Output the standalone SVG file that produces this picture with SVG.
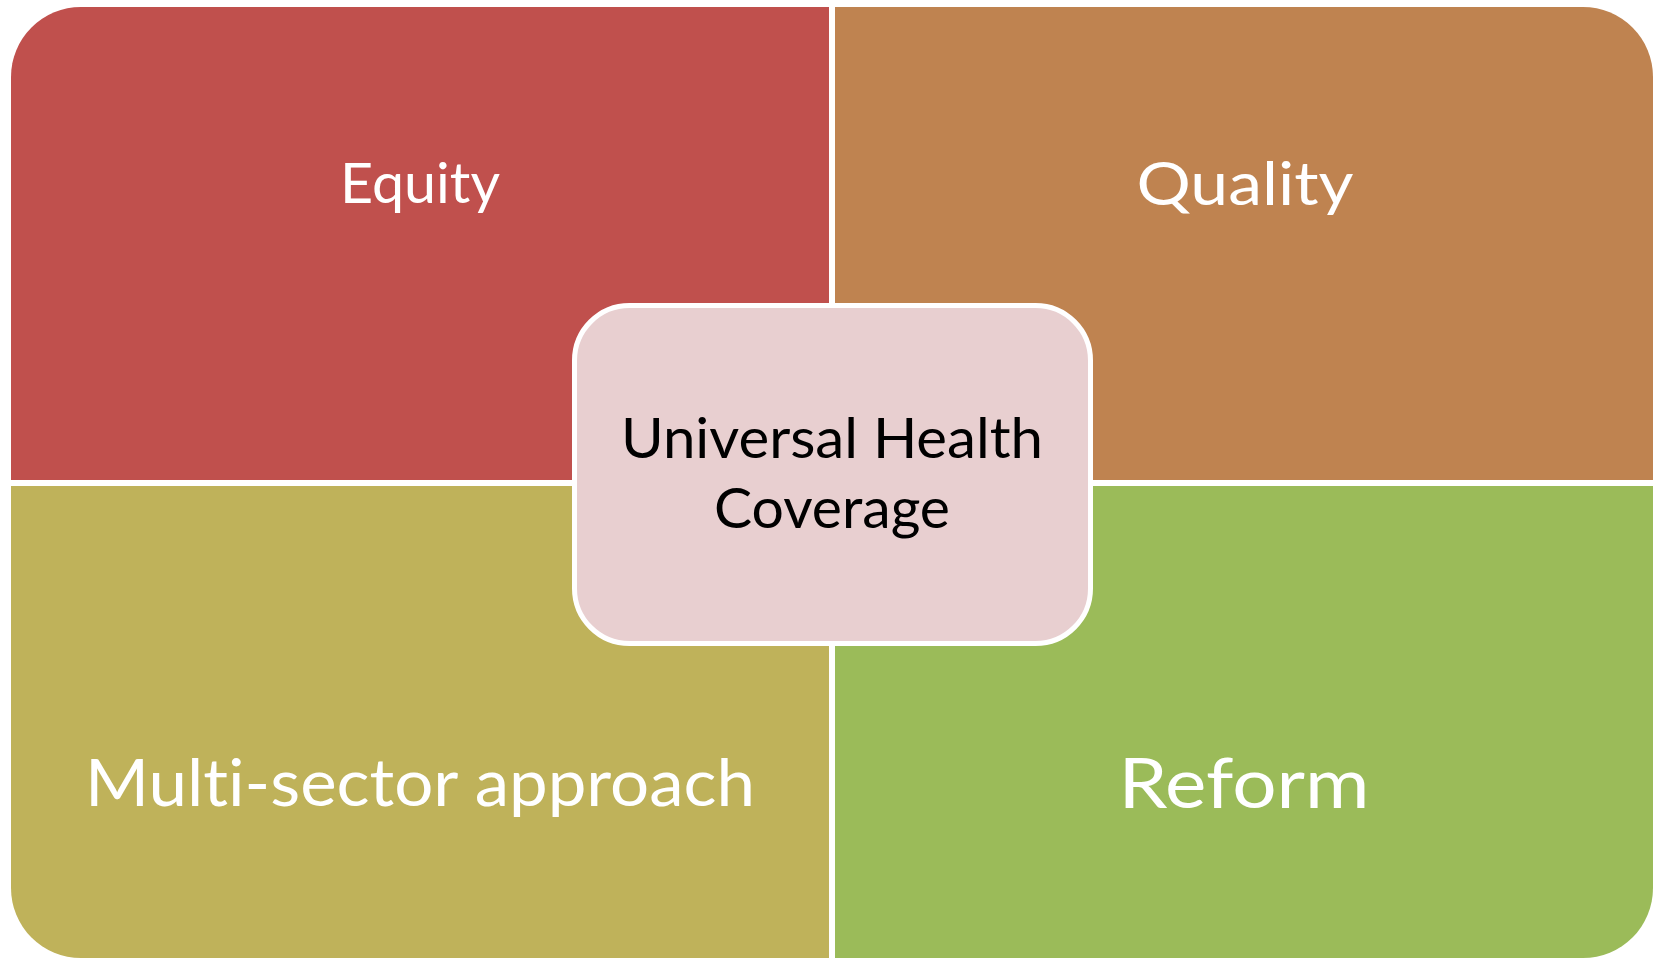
<svg xmlns="http://www.w3.org/2000/svg" width="1656" height="959" viewBox="0 0 1656 959">
  <style>
    .lbl { font-family: Lato, "Open Sans", "Liberation Sans", sans-serif; fill: #FFFFFF; text-anchor: middle; font-variant-ligatures: none; font-feature-settings: "liga" 0, "clig" 0; }
    .ctr { font-family: Lato, "Open Sans", "Liberation Sans", sans-serif; fill: #000000; text-anchor: middle; font-size: 57px; font-variant-ligatures: none; }
  </style>
  <rect width="1656" height="959" fill="#FFFFFF"/>
  <g id="equity">
    <path d="M11,480 V77 A70,70 0 0 1 81,7 H829 V480 Z" fill="#C0504D"/>
    <text class="lbl" x="420" y="203" font-size="57" textLength="160" lengthAdjust="spacingAndGlyphs">Equity</text>
  </g>
  <g id="quality">
    <path d="M835,7 H1583 A70,70 0 0 1 1653,77 V480 H835 Z" fill="#BF8350"/>
    <text class="lbl" x="1245" y="205" font-size="60" textLength="217" lengthAdjust="spacingAndGlyphs">Quality</text>
  </g>
  <g id="multisector">
    <path d="M11,486 H829 V958 H81 A70,70 0 0 1 11,888 Z" fill="#BFB25A"/>
    <text class="lbl" x="420" y="806" font-size="65" textLength="670" lengthAdjust="spacingAndGlyphs">Multi-sector approach</text>
  </g>
  <g id="reform">
    <path d="M835,486 H1653 V888 A70,70 0 0 1 1583,958 H835 Z" fill="#9BBB59"/>
    <text class="lbl" x="1244" y="808" font-size="70" textLength="251" lengthAdjust="spacingAndGlyphs">Reform</text>
  </g>
  <g id="uhc">
    <rect x="574.5" y="305.5" width="516" height="338" rx="55" ry="55" fill="#E8CFD0" stroke="#FFFFFF" stroke-width="5"/>
    <text class="ctr" x="832" y="458" textLength="422" lengthAdjust="spacingAndGlyphs">Universal Health</text>
    <text class="ctr" x="832" y="528" textLength="236" lengthAdjust="spacingAndGlyphs">Coverage</text>
  </g>
  <g id="connectors"/>
</svg>
